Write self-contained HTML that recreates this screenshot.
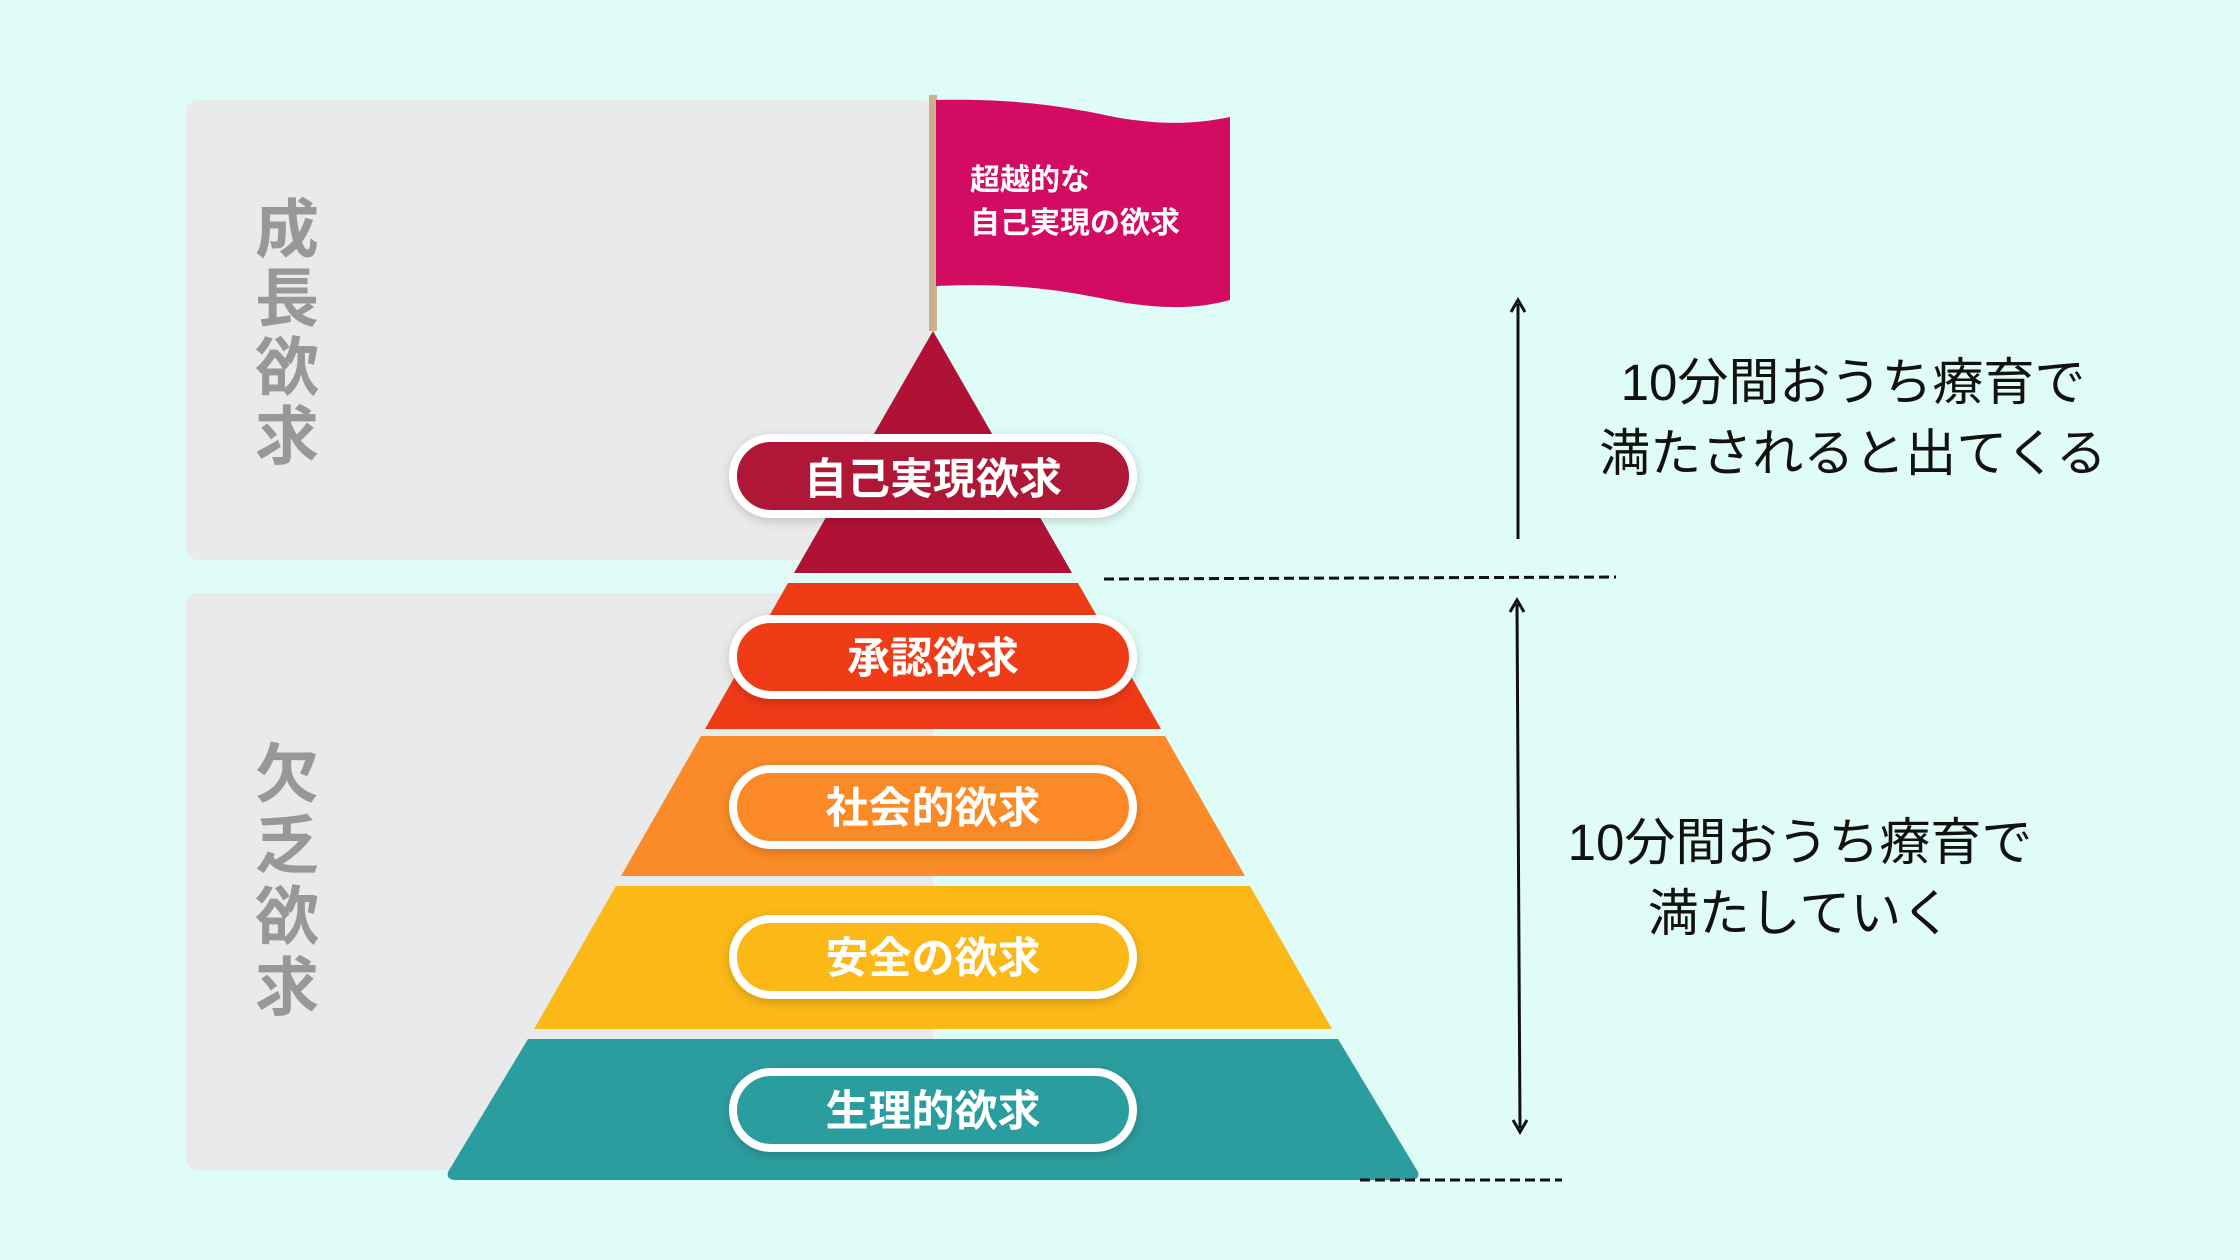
<!DOCTYPE html>
<html><head><meta charset="utf-8"><style>
html,body{margin:0;padding:0;background:#e0fcf6;}
svg{display:block;}
text{font-family:"Liberation Sans","Noto Sans CJK JP",sans-serif;}
</style></head><body>
<svg width="2240" height="1260" viewBox="0 0 2240 1260" xmlns="http://www.w3.org/2000/svg">
<defs>
<filter id="sh" x="-10%" y="-30%" width="120%" height="160%"><feDropShadow dx="0" dy="3" stdDeviation="5" flood-color="#000" flood-opacity="0.18"/></filter>
</defs>
<rect width="2240" height="1260" fill="#e0fcf6"/>
<rect x="186" y="100" width="747" height="460" rx="12" fill="#e9eaeb"/>
<rect x="186" y="593" width="747" height="577" rx="12" fill="#e9eaeb"/>
<g font-size="64" font-weight="bold" fill="#979899" text-anchor="middle">
<text x="287" y="252">成</text><text x="287" y="321">長</text><text x="287" y="390">欲</text><text x="287" y="459">求</text>
<text x="287" y="797">欠</text><text x="287" y="868">乏</text><text x="287" y="939">欲</text><text x="287" y="1010">求</text>
</g>
<!-- flag -->
<rect x="929" y="95" width="8" height="236" fill="#c8b08f"/>
<path d="M936,100 C1030,98 1080,110 1120,118 C1170,126 1200,123 1230,117 L1230,300 C1200,308 1170,310 1120,302 C1070,292 1020,282 936,286 Z" fill="#d40b62"/>
<g font-size="30" font-weight="bold" fill="#fff">
<text x="970" y="190">超越的な</text>
<text x="970" y="233">自己実現の欲求</text>
</g>
<!-- pyramid -->
<polygon points="933,331 1072,573 794,573" fill="#b01235"/>
<polygon points="788,583 1078,583 1161,729 705,729" fill="#ef3a16"/>
<polygon points="701,736 1165,736 1245,876 621,876" fill="#fb8a28"/>
<polygon points="616,886 1250,886 1332,1029 534,1029" fill="#fbb817"/>
<path d="M528,1039 L1338,1039 L1418,1172 Q1420,1180 1410,1180 L456,1180 Q446,1180 448,1172 Z" fill="#2c9d9f"/>
<!-- pills -->
<g filter="url(#sh)" stroke="#fff" stroke-width="8">
<rect x="733" y="438" width="400" height="76" rx="38" fill="#b01235"/>
<rect x="733" y="619" width="400" height="76" rx="38" fill="#ef3a16"/>
<rect x="733" y="769" width="400" height="76" rx="38" fill="#fb8a28"/>
<rect x="733" y="919" width="400" height="76" rx="38" fill="#fbb817"/>
<rect x="733" y="1072" width="400" height="76" rx="38" fill="#2c9d9f"/>
</g>
<g font-size="43" font-weight="bold" fill="#fff" text-anchor="middle">
<text x="933" y="494">自己実現欲求</text>
<text x="933" y="673">承認欲求</text>
<text x="933" y="823">社会的欲求</text>
<text x="933" y="973">安全の欲求</text>
<text x="933" y="1126">生理的欲求</text>
</g>
<!-- dashed lines -->
<g stroke="#111" stroke-width="3" stroke-dasharray="10,5">
<line x1="1104" y1="579" x2="1616" y2="577"/>
<line x1="1360" y1="1180" x2="1562" y2="1180"/>
</g>
<!-- arrows -->
<g stroke="#111" stroke-width="3" fill="none">
<line x1="1518" y1="304" x2="1518" y2="539"/>
<polyline points="1511,312 1518,300 1525,312"/>
<line x1="1517" y1="604" x2="1520" y2="1128"/>
<polyline points="1510,612 1517,600 1524,612"/>
<polyline points="1513,1120 1520,1132 1527,1120"/>
</g>
<g font-size="51" fill="#111" text-anchor="middle">
<text x="1853" y="400">10分間おうち療育で</text>
<text x="1853" y="471">満たされると出てくる</text>
<text x="1800" y="860">10分間おうち療育で</text>
<text x="1800" y="931">満たしていく</text>
</g>
</svg>
</body></html>
